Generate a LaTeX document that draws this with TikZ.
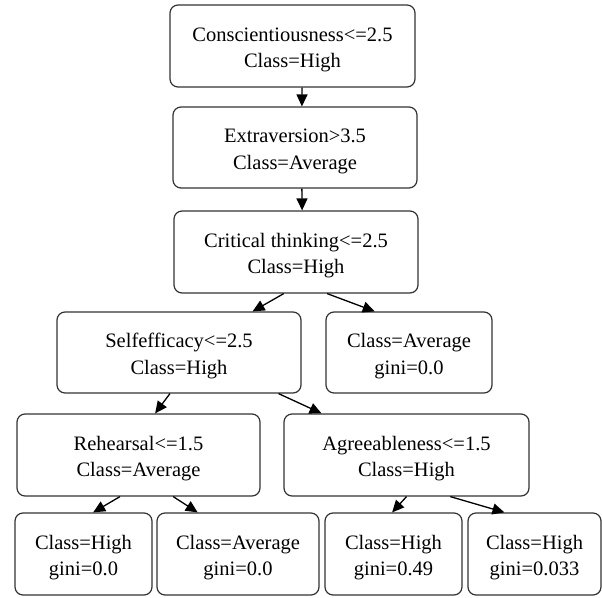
\documentclass[tikz,border=0pt]{standalone}
\usepackage{fontspec}
\setmainfont[Ligatures=NoCommon]{Liberation Serif}
\usetikzlibrary{arrows.meta,calc}

% two centred lines, with a strut that sets the first line's height
\newcommand{\twolines}[2]{\rule{0pt}{21pt}#1\\#2}

\tikzset{
  treebox/.style={draw=black!80, line width=1.2pt, rounded corners=8pt,
    fill=white, align=center, inner sep=0pt,
    font=\fontsize{20.5}{26.5}\selectfont, text=black},
  split/.style={draw=black, line width=1.3pt,
    -{Triangle[length=12pt,width=11pt]}}
}

\begin{document}
\begin{tikzpicture}[x=1pt,y=-1pt]
\useasboundingbox (0,0) rectangle (602,597);

% decision and leaf boxes
\node[treebox, minimum width=245pt, minimum height=82pt] (n1) at (292.5,46)
  {\twolines{Conscientiousness<=2.5}{Class=High}};
\node[treebox, minimum width=244pt, minimum height=81pt] (n2) at (295,147.5)
  {\twolines{Extraversion>3.5}{Class=Average}};
\node[treebox, minimum width=244pt, minimum height=82pt] (n3) at (296,252)
  {\twolines{Critical thinking<=2.5}{Class=High}};
\node[treebox, minimum width=244pt, minimum height=81pt] (n4) at (179,352.5)
  {\twolines{Selfefficacy<=2.5}{Class=High}};
\node[treebox, minimum width=166pt, minimum height=81pt] (n5) at (409,352.5)
  {\twolines{Class=Average}{gini=0.0}};
\node[treebox, minimum width=243pt, minimum height=82pt] (n6) at (138.5,455)
  {\twolines{Rehearsal<=1.5}{Class=Average}};
\node[treebox, minimum width=245pt, minimum height=82pt] (n7) at (406.5,455)
  {\twolines{Agreeableness<=1.5}{Class=High}};
\node[treebox, minimum width=137pt, minimum height=82pt] (n8) at (83.5,554)
  {\twolines{Class=High}{gini=0.0}};
\node[treebox, minimum width=162pt, minimum height=82pt] (n9) at (238,554)
  {\twolines{Class=Average}{gini=0.0}};
\node[treebox, minimum width=137pt, minimum height=82pt] (n10) at (393.5,554)
  {\twolines{Class=High}{gini=0.49}};
\node[treebox, minimum width=133pt, minimum height=82pt] (n11) at (534.5,554)
  {\twolines{Class=High}{gini=0.033}};

% branches
\draw[split] ($(n1.south west)!0.539!(n1.south east)$) -- ($(n2.north west)!0.528!(n2.north east)$);
\draw[split] ($(n2.south west)!0.528!(n2.south east)$) -- ($(n3.north west)!0.525!(n3.north east)$);
\draw[split] ($(n3.south west)!0.45!(n3.south east)$) -- ($(n4.north west)!0.80!(n4.north east)$);
\draw[split] ($(n3.south west)!0.627!(n3.south east)$) -- ($(n5.north west)!0.295!(n5.north east)$);
\draw[split] ($(n4.south west)!0.463!(n4.south east)$) -- ($(n6.north west)!0.568!(n6.north east)$);
\draw[split] ($(n4.south west)!0.906!(n4.south east)$) -- ($(n7.north west)!0.155!(n7.north east)$);
\draw[split] ($(n6.south west)!0.424!(n6.south east)$) -- ($(n8.north west)!0.57!(n8.north east)$);
\draw[split] ($(n6.south west)!0.642!(n6.south east)$) -- ($(n9.north west)!0.253!(n9.north east)$);
\draw[split] ($(n7.south west)!0.50!(n7.south east)$) -- ($(n10.north west)!0.49!(n10.north east)$);
\draw[split] ($(n7.south west)!0.678!(n7.south east)$) -- ($(n11.north west)!0.276!(n11.north east)$);
\end{tikzpicture}
\end{document}
